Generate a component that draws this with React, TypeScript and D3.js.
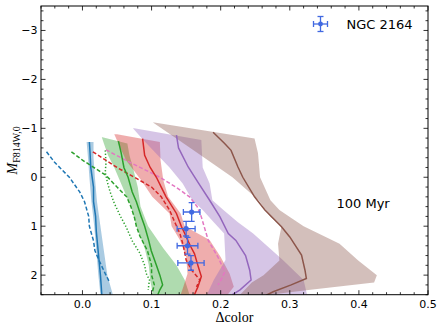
import React from 'react';
import * as d3 from 'd3';

// rows: [magnitude, left Δcolor, right Δcolor]
const blueBand = [[-0.72, 0.006, 0.016], [-0.4, 0.008, 0.016], [0, 0.01, 0.018], [0.5, 0.013, 0.021], [1.0, 0.017, 0.026], [1.5, 0.02, 0.031], [2.0, 0.023, 0.036], [2.4, 0.026, 0.044]];
const greenBand = [[-0.82, 0.028, 0.029], [-0.69, 0.031, 0.065], [-0.45, 0.037, 0.068], [-0.2, 0.046, 0.073], [0.2, 0.058, 0.08], [0.6, 0.07, 0.084], [1.0, 0.078, 0.095], [1.45, 0.09, 0.117], [1.8, 0.096, 0.136], [2.1, 0.098, 0.148], [2.4, 0.102, 0.155]];
const redBand = [[-0.88, 0.046, 0.05], [-0.72, 0.051, 0.112], [-0.35, 0.063, 0.113], [0.06, 0.085, 0.117], [0.4, 0.101, 0.124], [0.74, 0.126, 0.142], [1.0, 0.129, 0.148], [1.28, 0.141, 0.184], [1.63, 0.15, 0.2], [1.97, 0.152, 0.213], [2.24, 0.146, 0.219], [2.4, 0.142, 0.21]];
const purpleBand = [[-1.0, 0.073, 0.075], [-0.76, 0.088, 0.172], [-0.2, 0.126, 0.174], [0.13, 0.145, 0.184], [0.47, 0.159, 0.188], [0.67, 0.174, 0.204], [0.92, 0.19, 0.225], [1.15, 0.205, 0.247], [1.69, 0.207, 0.29], [2.1, 0.19, 0.32], [2.4, 0.18, 0.325]];
const brownBand = [[-1.12, 0.102, 0.104], [-0.79, 0.136, 0.249], [-0.49, 0.167, 0.254], [0.0, 0.217, 0.257], [0.47, 0.255, 0.272], [0.67, 0.265, 0.285], [0.81, 0.272, 0.3], [1.0, 0.288, 0.32], [1.36, 0.283, 0.372], [1.7, 0.285, 0.399], [2.0, 0.262, 0.426], [2.15, 0.245, 0.422], [2.3, 0.235, 0.33], [2.4, 0.228, 0.27]];

// rows: [magnitude, Δcolor]
const blueSolid = [[-0.72, 0.01], [-0.5, 0.011], [-0.2, 0.012], [0.2, 0.016], [0.5, 0.016], [0.8, 0.019], [1.1, 0.02], [1.4, 0.022], [1.7, 0.024], [2.0, 0.026], [2.2, 0.027], [2.4, 0.028]];
const blueDashed = [[-0.52, -0.052], [-0.3, -0.04], [0, -0.019], [0.3, -0.004], [0.5, 0.003], [0.8, 0.009], [1.0, 0.01], [1.3, 0.016], [1.5, 0.018], [1.7, 0.024], [1.97, 0.033], [2.14, 0.039]];
const greenSolid = [[-0.74, 0.052], [-0.5, 0.056], [-0.2, 0.06], [0, 0.066], [0.3, 0.072], [0.5, 0.078], [0.8, 0.085], [1.0, 0.09], [1.3, 0.096], [1.5, 0.0995], [1.8, 0.107], [2.0, 0.112], [2.2, 0.116], [2.3, 0.112], [2.4, 0.109]];
const greenDashed = [[-0.52, -0.016], [-0.35, 0.0], [-0.04, 0.034], [0.2, 0.05], [0.4, 0.064], [0.6, 0.07], [0.81, 0.075], [1.0, 0.078], [1.2, 0.083], [1.5, 0.094], [1.8, 0.1], [2.0, 0.1], [2.2, 0.104], [2.4, 0.1]];
const greenDotted = [[-0.55, 0.033], [-0.3, 0.034], [-0.1, 0.033], [0.1, 0.036], [0.3, 0.04], [0.53, 0.046], [0.8, 0.055], [1.01, 0.063], [1.3, 0.072], [1.55, 0.083], [1.8, 0.09], [1.96, 0.092], [2.1, 0.097], [2.3, 0.095]];
const redSolid = [[-0.79, 0.087], [-0.45, 0.09], [-0.2, 0.098], [0, 0.107], [0.2, 0.114], [0.4, 0.121], [0.74, 0.136], [1.0, 0.143], [1.15, 0.148], [1.4, 0.156], [1.56, 0.162], [1.8, 0.167], [2.03, 0.172], [2.24, 0.167], [2.4, 0.162]];
const redDashed = [[-0.52, 0.015], [-0.2, 0.05], [0, 0.075], [0.2, 0.1], [0.4, 0.114], [0.67, 0.126], [0.9, 0.133], [1.15, 0.141], [1.4, 0.146], [1.69, 0.15], [1.9, 0.158], [2.1, 0.17], [2.24, 0.165]];
const pinkDashed = [[-0.56, 0.034], [-0.31, 0.068], [0, 0.112], [0.2, 0.135], [0.4, 0.155], [0.6, 0.166], [0.81, 0.172], [1.05, 0.177], [1.29, 0.182], [1.63, 0.196], [1.93, 0.206], [2.14, 0.199], [2.2, 0.196]];
const purpleSolid = [[-0.86, 0.136], [-0.6, 0.139], [-0.21, 0.153], [0.1, 0.167], [0.47, 0.184], [0.81, 0.199], [1.15, 0.211], [1.29, 0.222], [1.6, 0.236], [1.9, 0.242], [2.1, 0.244], [2.3, 0.228], [2.4, 0.217]];
const brownSolid = [[-0.92, 0.189], [-0.7, 0.205], [-0.55, 0.215], [-0.21, 0.225], [0, 0.232], [0.4, 0.249], [0.67, 0.264], [1.01, 0.288], [1.22, 0.3], [1.59, 0.317], [1.9, 0.322], [2.07, 0.324], [2.2, 0.302], [2.34, 0.276], [2.41, 0.266]];

// NGC 2164 observations
const obsColor = [0.158, 0.150, 0.152, 0.157];
const obsMag = [0.71, 1.05, 1.40, 1.75];
const obsColorErr = [0.012, 0.013, 0.015, 0.019];
const obsMagErr = [0.19, 0.15, 0.17, 0.15];

const xMajor = [0.0, 0.1, 0.2, 0.3, 0.4, 0.5];
const yMajor = [-3, -2, -1, 0, 1, 2];

const W = 443, H = 331;
const L = 41, R = 428, T = 6, B = 294.7;

export default function App() {
  const x = d3.scaleLinear().domain([-0.06, 0.5]).range([L, R]);
  const y = d3.scaleLinear().domain([-3.5, 2.4]).range([T, B]);

  const band = d3.area<number[]>().y(d => y(d[0])).x0(d => x(d[1])).x1(d => x(d[2]));
  const line = d3.line<number[]>().x(d => x(d[1])).y(d => y(d[0]));

  const bands = [
    { d: blueBand, c: '#1f77b4' },
    { d: greenBand, c: '#2ca02c' },
    { d: redBand, c: '#d62728' },
    { d: purpleBand, c: '#9467bd' },
    { d: brownBand, c: '#8c564b' },
  ];
  const lines = [
    { d: blueDashed, c: '#1f77b4', dash: '4,2.2' },
    { d: greenDashed, c: '#2ca02c', dash: '4,2.2' },
    { d: greenDotted, c: '#2ca02c', dash: '1.3,2' },
    { d: redDashed, c: '#d62728', dash: '4,2.2' },
    { d: pinkDashed, c: '#e377c2', dash: '4,2.2' },
    { d: blueSolid, c: '#1f77b4', dash: null },
    { d: greenSolid, c: '#2ca02c', dash: null },
    { d: redSolid, c: '#d62728', dash: null },
    { d: purpleSolid, c: '#9467bd', dash: null },
    { d: brownSolid, c: '#8c564b', dash: null },
  ];

  const xMinor = d3.range(-0.06, 0.5001, 0.02).filter(v => xMajor.every(m => Math.abs(m - v) > 1e-6));
  const yMinor = d3.range(-3.4, 2.4001, 0.2).filter(v => yMajor.every(m => Math.abs(m - v) > 1e-6));

  const tickFont = "'DejaVu Sans', sans-serif";
  const ebColor = '#4169e1';

  return (
    <svg width={W} height={H} style={{ position: 'absolute', left: 0, top: 0, background: '#fff' }}>
      <defs>
        <clipPath id="plot"><rect x={L} y={T} width={R - L} height={B - T} /></clipPath>
      </defs>
      <g clipPath="url(#plot)">
        {bands.map((b, i) => (
          <path key={'b' + i} d={band(b.d) || ''} fill={b.c} fillOpacity={0.38} stroke="none" />
        ))}
        {lines.map((l, i) => (
          <path key={'l' + i} d={line(l.d) || ''} fill="none" stroke={l.c} strokeWidth={1.5}
            strokeDasharray={l.dash || undefined} />
        ))}
        {obsColor.map((c, i) => {
          const cx = x(c), cy = y(obsMag[i]);
          const x0 = x(c - obsColorErr[i]), x1 = x(c + obsColorErr[i]);
          const y0 = y(obsMag[i] - obsMagErr[i]), y1 = y(obsMag[i] + obsMagErr[i]);
          return (
            <g key={'o' + i} stroke={ebColor} strokeWidth={1.3}>
              <line x1={x0} x2={x1} y1={cy} y2={cy} />
              <line x1={cx} x2={cx} y1={y0} y2={y1} />
              <line x1={x0} x2={x0} y1={cy - 3} y2={cy + 3} />
              <line x1={x1} x2={x1} y1={cy - 3} y2={cy + 3} />
              <line x1={cx - 3} x2={cx + 3} y1={y0} y2={y0} />
              <line x1={cx - 3} x2={cx + 3} y1={y1} y2={y1} />
              <circle cx={cx} cy={cy} r={2.6} fill={ebColor} stroke="none" />
            </g>
          );
        })}
      </g>

      {/* ticks, inward on all sides */}
      <g stroke="#000" strokeWidth={0.8}>
        {xMajor.map(v => (
          <g key={'xM' + v}>
            <line x1={x(v)} x2={x(v)} y1={B} y2={B - 4.5} />
            <line x1={x(v)} x2={x(v)} y1={T} y2={T + 4.5} />
          </g>
        ))}
        {xMinor.map(v => (
          <g key={'xm' + v}>
            <line x1={x(v)} x2={x(v)} y1={B} y2={B - 2.5} />
            <line x1={x(v)} x2={x(v)} y1={T} y2={T + 2.5} />
          </g>
        ))}
        {yMajor.map(v => (
          <g key={'yM' + v}>
            <line x1={L} x2={L + 4.5} y1={y(v)} y2={y(v)} />
            <line x1={R} x2={R - 4.5} y1={y(v)} y2={y(v)} />
          </g>
        ))}
        {yMinor.map(v => (
          <g key={'ym' + v}>
            <line x1={L} x2={L + 2.5} y1={y(v)} y2={y(v)} />
            <line x1={R} x2={R - 2.5} y1={y(v)} y2={y(v)} />
          </g>
        ))}
      </g>
      <rect x={L} y={T} width={R - L} height={B - T} fill="none" stroke="#000" strokeWidth={1} />

      {/* tick labels */}
      <g fontFamily={tickFont} fontSize={11} fill="#000">
        {xMajor.map(v => (
          <text key={'xl' + v} x={x(v)} y={B + 13} textAnchor="middle">{v.toFixed(1)}</text>
        ))}
        {yMajor.map(v => (
          <text key={'yl' + v} x={L - 3.5} y={y(v) + 4} textAnchor="end">{v < 0 ? '\u2212' + Math.abs(v) : String(v)}</text>
        ))}
      </g>

      {/* axis labels */}
      <text x={(L + R) / 2} y={322} textAnchor="middle" fontFamily="'Liberation Serif', serif" fontSize={14}>Δcolor</text>
      <g transform={`translate(16.5,${(T + B) / 2}) rotate(-90)`}>
        <text textAnchor="middle" fontFamily="'Liberation Serif', serif" fontSize={14}>
          <tspan fontStyle="italic">M</tspan>
          <tspan fontSize={10} dy={3}>F814W,0</tspan>
        </text>
      </g>

      {/* legend */}
      <g stroke={ebColor} strokeWidth={1.3}>
        <line x1={313.5} x2={327.5} y1={24} y2={24} />
        <line x1={320.5} x2={320.5} y1={16.5} y2={31.5} />
        <line x1={313.5} x2={313.5} y1={21} y2={27} />
        <line x1={327.5} x2={327.5} y1={21} y2={27} />
        <line x1={317.5} x2={323.5} y1={16.5} y2={16.5} />
        <line x1={317.5} x2={323.5} y1={31.5} y2={31.5} />
        <circle cx={320.5} cy={24} r={2.4} fill={ebColor} stroke="none" />
      </g>
      <text x={346.5} y={28.5} fontFamily={tickFont} fontSize={13}>NGC 2164</text>
      <text x={336.5} y={208} fontFamily={tickFont} fontSize={13}>100 Myr</text>
    </svg>
  );
}
